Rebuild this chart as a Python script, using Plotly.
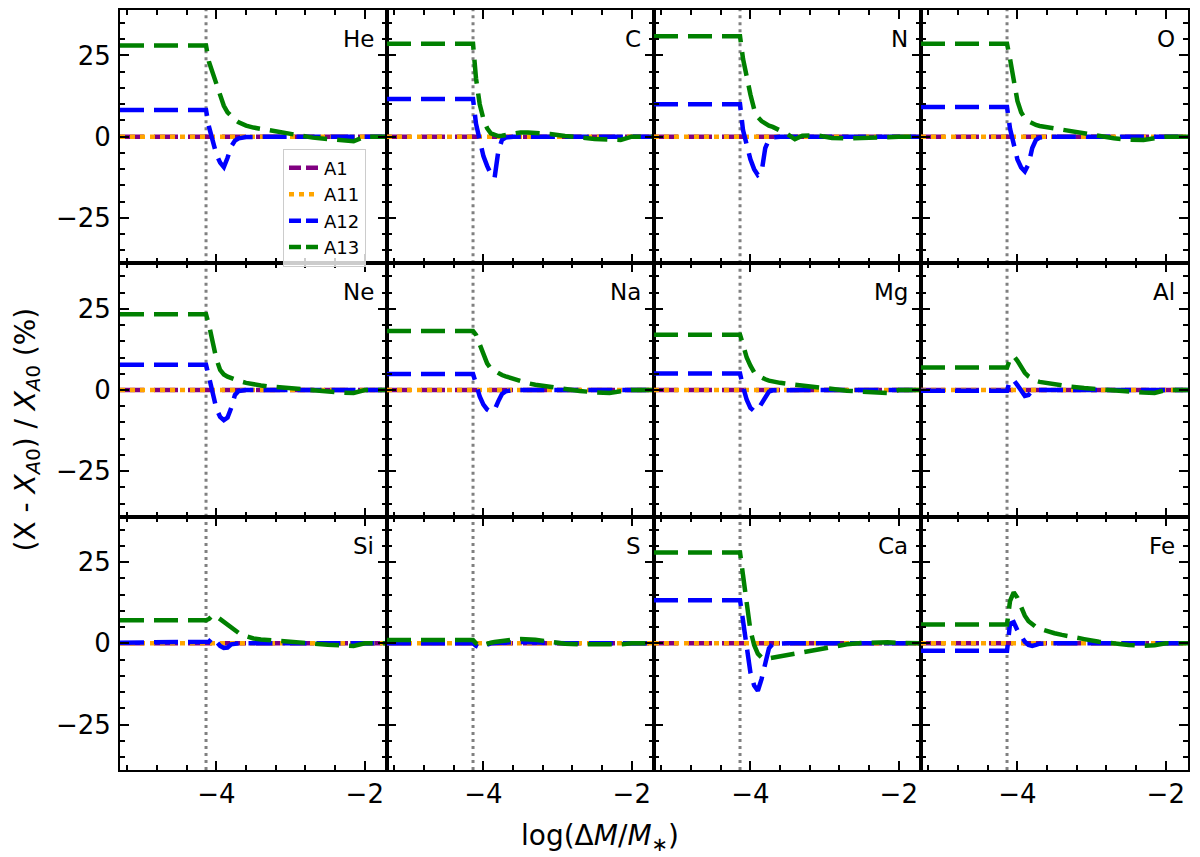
import plotly.graph_objects as go
from plotly.subplots import make_subplots

# -- Data ---------------------------------------------------------------------
ELEMENTS = ["He", "C", "N", "O", "Ne", "Na", "Mg", "Al", "Si", "S", "Ca", "Fe"]

# common x grid, log(dM/M*)
X = [-5.3, -4.14, -4.1, -4.05, -4.0, -3.95, -3.9, -3.85, -3.8, -3.75, -3.7,
     -3.6, -3.5, -3.4, -3.3, -3.1, -2.9, -2.7, -2.5, -2.3, -2.15, -2.0, -1.7]

# A1 / A11 sit on zero over the whole range
X_FLAT = [-5.3, -1.7]
A1 = [0.0, 0.0]
A11 = [0.0, 0.0]

# A12 (blue) per element
A12 = {
    "He": [8.2, 8.2, 3, -2, -5.5, -8, -9.4, -6.5, -3, -1.2, -0.5, -0.1, 0, 0, 0, 0, 0, 0, 0, 0, 0, 0, 0],
    "C":  [11.6, 11.6, 4, -1.5, -6, -9, -11.5, -12.8, -4.6, -1.0, -0.3, 0, 0, 0, 0, 0, 0, 0, 0, 0, 0, 0, 0],
    "N":  [10, 10, 2, -3, -7, -10, -11.8, -11, -3.5, -0.8, -0.2, 0, 0, 0, 0, 0, 0, 0, 0, 0, 0, 0, 0],
    "O":  [9.1, 9.1, 2.5, -3, -7, -9.5, -10.7, -8.5, -3.5, -1, -0.3, 0, 0, 0, 0, 0, 0, 0, 0, 0, 0, 0, 0],
    "Ne": [7.8, 7.8, 4, -1, -5.8, -8.3, -9.3, -8.5, -5.5, -1.5, -0.3, 0, 0, 0, 0, 0, 0, 0, 0, 0, 0, 0, 0],
    "Na": [4.9, 4.9, 2, -2, -4.5, -6, -6.7, -6.2, -3.5, -1.2, -0.4, 0, 0, 0, 0, 0, 0, 0, 0, 0, 0, 0, 0],
    "Mg": [5.1, 5.1, 1, -3, -5.5, -6.5, -6, -4.2, -2, -0.5, -0.1, 0, 0, 0, 0, 0, 0, 0, 0, 0, 0, 0, 0],
    "Al": [-0.2, -0.2, 3, 3, 1.5, -0.5, -1.8, -1.5, -0.2, 0, 0, 0, 0, 0, 0, 0, 0, 0, 0, 0, 0, 0, 0],
    "Si": [0.2, 0.2, 0.5, 1.8, 0.5, -0.8, -1.4, -1.3, -0.3, 0, 0, 0, 0, 0, 0, 0, 0, 0, 0, 0, 0, 0, 0],
    "S":  [0, 0, -0.8, -1.3, -0.8, -0.3, 0, 0.1, 0.2, 0.2, 0.3, 0.3, 0.4, 0.4, 0.2, 0.1, 0, 0, 0, 0, 0, 0, 0],
    "Ca": [13.3, 13.3, 7, -2, -9, -13, -14.6, -11, -6, -1.5, -0.2, 0, 0, 0, 0, 0, 0, 0, 0, 0, 0, 0, 0],
    "Fe": [-2.3, -2.3, 6, 6.5, 4, 2, 0.5, -0.5, -0.8, -0.5, -0.1, 0, 0, 0, 0, 0, 0, 0, 0, 0, 0, 0, 0],
}

# A13 (green) per element
A13 = {
    "He": [28.1, 28.1, 23, 19.4, 16, 12.8, 9.5, 7.5, 6.2, 5.2, 4.4, 3.4, 2.8, 2.4, 2.0, 1.0, 0.2, -0.3, -0.7, -1.1, -1.4, 0, 0],
    "C":  [28.6, 28.6, 18, 10, 5.5, 2.6, 1.0, 0.5, 0.2, 0.3, 0.5, 1.0, 1.3, 1.3, 1.2, 0.8, 0.2, -0.4, -0.7, -0.9, -1.0, 0, 0],
    "N":  [30.9, 30.9, 24, 18, 13, 8.5, 6, 4.8, 4, 3.4, 3, 2, 0.8, -0.8, 0.3, 0.4, -0.4, -0.5, -0.5, -0.4, -0.2, 0, 0],
    "O":  [28.6, 28.6, 24, 17, 11, 7.5, 5.7, 4.7, 4, 3.6, 3.3, 2.9, 2.5, 2, 1.6, 0.9, 0.2, -0.5, -0.9, -1, -0.5, 0, 0],
    "Ne": [23.3, 23.3, 20, 14.5, 9.5, 6.2, 4.8, 4.1, 3.6, 3.1, 2.8, 2.2, 1.7, 1.4, 1.1, 0.7, 0.2, -0.3, -0.6, -0.8, -0.9, 0, 0],
    "Na": [18.2, 18.2, 17, 14, 11, 8.2, 6.6, 5.8, 5.2, 4.6, 4.2, 3.4, 2.6, 2.1, 1.6, 0.9, 0.3, -0.3, -0.7, -0.9, -0.4, 0, 0],
    "Mg": [17, 17, 14, 10, 7.5, 5.5, 4.5, 3.8, 3.3, 2.9, 2.6, 2.2, 1.9, 1.6, 1.3, 0.8, 0.3, -0.2, -0.5, -0.8, -0.9, 0, 0],
    "Al": [6.9, 6.9, 9.5, 10.5, 9, 7, 5.3, 4.2, 3.3, 2.8, 2.5, 2.1, 1.8, 1.4, 1.1, 0.6, 0.2, -0.2, -0.6, -0.8, -0.9, 0, 0],
    "Si": [7.1, 7.1, 7.5, 8.7, 8.3, 7.5, 6.6, 5.7, 4.8, 4.0, 3.2, 2.2, 1.5, 1.2, 1.0, 0.7, 0.3, -0.1, -0.4, -0.6, -0.8, 0, 0],
    "S":  [1, 1, 0, -0.8, -0.5, 0, 0.2, 0.4, 0.6, 0.8, 1, 1.2, 1.3, 1.3, 1.1, 0.5, -0.1, -0.3, -0.4, -0.5, -0.3, 0, 0],
    "Ca": [28, 28, 21, 11, 4, -0.5, -3.2, -4.3, -4.7, -4.6, -4.4, -4.0, -3.5, -3.0, -2.6, -1.8, -1.0, -0.3, 0.1, 0.4, 0.3, 0.1, 0],
    "Fe": [5.8, 5.8, 13, 15.7, 14, 11, 8.5, 6.8, 5.8, 5, 4.5, 3.7, 3.1, 2.6, 2.1, 1.3, 0.5, -0.1, -0.5, -0.8, -0.6, 0, 0],
}

VLINE_X = -4.14
X_RANGE = [-5.3, -1.7]
Y_RANGE = [-39, 39]

# -- Style --------------------------------------------------------------------
FONT = "DejaVu Sans"
DASH = "24px,10px"
DOT = "5px,5px"
LW = 4.5

STYLES = [
    ("A1", "purple", DASH, "12px,5px"),
    ("A11", "orange", DOT, DOT),
    ("A12", "blue", DASH, "12px,5px"),
    ("A13", "green", DASH, "12px,5px"),
]

# page body has an 8px margin in the browser -> shrink the figure to match
OFF = 8
W, H = 1200 - OFF, 857 - OFF
PL, PR, PT, PB = 120, 1188, 8, 770   # plot area in page pixels

fig = make_subplots(rows=3, cols=4, shared_xaxes=True, shared_yaxes=True,
                    horizontal_spacing=0, vertical_spacing=0)

for i, el in enumerate(ELEMENTS):
    r, c = i // 4 + 1, i % 4 + 1
    series = [(X_FLAT, A1), (X_FLAT, A11), (X, A12[el]), (X, A13[el])]
    for (name, color, dash, _), (xs, ys) in zip(STYLES, series):
        fig.add_trace(go.Scatter(
            x=xs, y=ys, mode="lines", name=name,
            line=dict(color=color, width=LW, dash=dash),
            showlegend=False, hoverinfo="skip",
        ), row=r, col=c)
    fig.add_vline(x=VLINE_X, line=dict(color="gray", width=3, dash="3px,4px"),
                  layer="below", row=r, col=c)
    fig.add_annotation(text=el, xref="x domain", yref="y domain",
                       x=0.96, y=0.886, xanchor="right", yanchor="middle",
                       showarrow=False, font=dict(size=23, color="black"),
                       row=r, col=c)

# legend entries (shorter dashes, as the legend handles show)
for name, color, _, ldash in STYLES:
    fig.add_trace(go.Scatter(x=[None], y=[None], mode="lines", name=name,
                             line=dict(color=color, width=LW, dash=ldash),
                             showlegend=True, hoverinfo="skip"), row=1, col=1)

axis_common = dict(
    ticks="inside", ticklen=9, tickwidth=2, tickcolor="black",
    mirror="allticks", showline=True, linecolor="black", linewidth=2,
    showgrid=False, zeroline=False,
    tickfont=dict(size=26, color="black", family=FONT),
)
fig.update_xaxes(range=X_RANGE, dtick=2, tick0=0, ticklabelstandoff=0,
                 minor=dict(dtick=0.4, tick0=0, ticks="inside", ticklen=5,
                            tickwidth=1.5, tickcolor="black"),
                 **axis_common)
fig.update_yaxes(range=Y_RANGE, dtick=25, tick0=0, ticklabelstandoff=2,
                 minor=dict(dtick=5, tick0=0, ticks="inside", ticklen=5,
                            tickwidth=1.5, tickcolor="black"),
                 **axis_common)

PW, PH = PR - PL, PB - PT


def px_x(x):
    return (x - PL) / PW


def px_y(y):
    return (PB - y) / PH


# figure-level axis labels (centred on the figure, like supxlabel/supylabel)
fig.add_annotation(text="log(Δ<i>M</i>/<i>M</i><sub>∗</sub>)",
                   xref="paper", yref="paper", x=px_x(600), y=px_y(838),
                   xanchor="center", yanchor="middle",
                   showarrow=False, font=dict(size=28, color="black"))
fig.add_annotation(text="(X - <i>X</i><sub><i>A</i>0</sub>) / <i>X</i><sub><i>A</i>0</sub> (%)",
                   xref="paper", yref="paper", x=px_x(27), y=px_y(428.5),
                   xanchor="center", yanchor="middle",
                   textangle=-90, showarrow=False,
                   font=dict(size=28, color="black"))

fig.update_layout(
    width=W, height=H,
    margin=dict(l=PL - OFF, r=W + OFF - PR, t=PT - OFF, b=H + OFF - PB),
    paper_bgcolor="white", plot_bgcolor="white",
    font=dict(family=FONT, color="black"),
    legend=dict(x=px_x(283), y=px_y(147), xanchor="left", yanchor="top",
                bgcolor="rgba(255,255,255,0.8)", bordercolor="#cccccc",
                borderwidth=1, itemwidth=30,
                font=dict(size=18, color="black", family=FONT)),
)

fig.write_html("out.html")
